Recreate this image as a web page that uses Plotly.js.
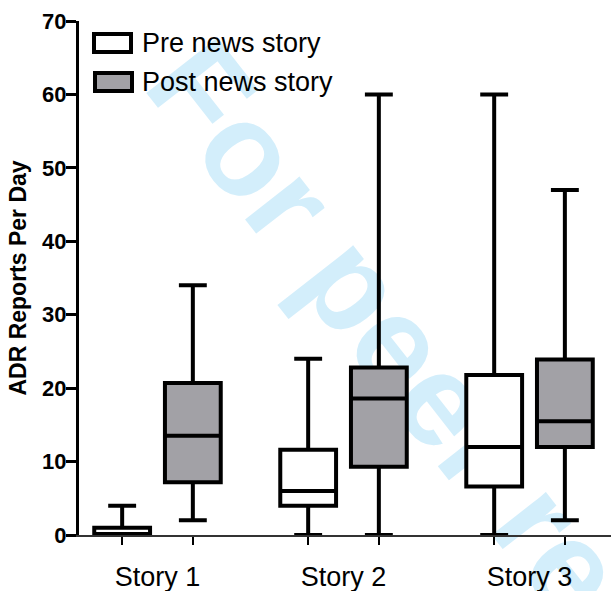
<!DOCTYPE html>
<html>
<head>
<meta charset="utf-8">
<script src="https://cdn.plot.ly/plotly-3.0.1.min.js"></script>
<style>html,body{margin:0;padding:0;background:#fff;}#chart{width:611px;height:591px;}</style>
</head>
<body>
<div id="chart"></div>
<script>
// ---- data ----
var categories = ['Story 1', 'Story 2', 'Story 3'];
var seriesNames = ['Pre news story', 'Post news story'];

var preMin    = [0, 0, 0];
var preQ1     = [0, 4, 6.6];
var preMedian = [0, 6, 12];
var preQ3     = [1, 11.6, 21.8];
var preMax    = [4, 24, 60];

var postMin    = [2, 0, 2];
var postQ1     = [7.2, 9.3, 12];
var postMedian = [13.5, 18.6, 15.5];
var postQ3     = [20.7, 22.8, 23.9];
var postMax    = [34, 60, 47];

var yTicks = [0, 10, 20, 30, 40, 50, 60, 70];

// ---- layout helpers ----
var offset = 0.19;
var groupPos = categories.map(function (c, i) { return i + 1; });
var prePos = groupPos.map(function (g) { return g - offset; });
var postPos = groupPos.map(function (g) { return g + offset; });

var FONT = 'Liberation Sans, Arial, Helvetica, sans-serif';
var GRAY = '#a2a1a6';

var common = {
  type: 'box',
  boxpoints: false,
  width: 0.30,
  whiskerwidth: 0.5,
  line: { color: '#000', width: 4 },
  hoverinfo: 'skip',
  xaxis: 'x', yaxis: 'y'
};

var tracePre = Object.assign({}, common, {
  name: seriesNames[0],
  x: prePos,
  q1: preQ1, median: preMedian, q3: preQ3,
  lowerfence: preMin, upperfence: preMax,
  fillcolor: '#ffffff'
});
var tracePost = Object.assign({}, common, {
  name: seriesNames[1],
  x: postPos,
  q1: postQ1, median: postMedian, q3: postQ3,
  lowerfence: postMin, upperfence: postMax,
  fillcolor: GRAY
});

var xr = [0.578, 3.438];

var layout = {
  width: 611, height: 591,
  margin: { l: 79, r: 0, t: 21, b: 56, pad: 0 },
  paper_bgcolor: '#ffffff',
  plot_bgcolor: 'rgba(0,0,0,0)',
  showlegend: false,
  font: { family: FONT, color: '#000' },
  xaxis: {
    range: xr, fixedrange: true,
    tickmode: 'array', tickvals: prePos.concat(postPos),
    ticktext: prePos.concat(postPos).map(function () { return ''; }),
    ticks: 'outside', ticklen: 8, tickwidth: 2.5, tickcolor: '#000',
    showline: true, linecolor: '#333', linewidth: 2,
    showgrid: false, zeroline: false
  },
  xaxis2: {
    overlaying: 'x', anchor: 'y', side: 'bottom',
    range: xr, fixedrange: true,
    tickmode: 'array', tickvals: groupPos, ticktext: categories,
    ticks: '', showline: false, showgrid: false, zeroline: false,
    tickfont: { size: 27, family: FONT, color: '#000' },
    ticklabelstandoff: 23
  },
  yaxis: {
    range: [0, 70], fixedrange: true,
    tickmode: 'array', tickvals: yTicks,
    ticks: 'outside', ticklen: 10, tickwidth: 3, tickcolor: '#000',
    showline: true, linecolor: '#000', linewidth: 3,
    showgrid: false, zeroline: false,
    ticklabelstandoff: -5,
    tickfont: { size: 22, family: FONT, color: '#000', weight: 'bold' },
    title: { text: 'ADR Reports Per Day', font: { size: 23, family: FONT, color: '#000', weight: 'bold' }, standoff: 10 }
  },
  shapes: [
    // watermark
    {
      type: 'rect', xref: 'paper', yref: 'paper',
      x0: 0.625, x1: 0.899, y0: 0.064, y1: 0.336,
      line: { width: 0 }, fillcolor: 'rgba(0,0,0,0)', layer: 'below',
      label: {
        text: '<b>For peer review</b>', textangle: 52, textposition: 'middle center',
        font: { size: 131, family: FONT, color: '#d3eefb', weight: 'bold' }
      }
    },
    // legend swatches
    {
      type: 'rect', xref: 'paper', yref: 'paper',
      x0: (94 - 79) / 532, x1: (131 - 79) / 532,
      y0: (535 - 34) / 514, y1: (535 - 52) / 514,
      line: { color: '#000', width: 4 }, fillcolor: '#ffffff'
    },
    {
      type: 'rect', xref: 'paper', yref: 'paper',
      x0: (95 - 79) / 532, x1: (132 - 79) / 532,
      y0: (535 - 73) / 514, y1: (535 - 91) / 514,
      line: { color: '#000', width: 4 }, fillcolor: GRAY
    }
  ],
  annotations: [
    { xref: 'paper', yref: 'paper', x: (140 - 79) / 532, y: (535 - 43) / 514, xanchor: 'left', yanchor: 'middle',
      text: seriesNames[0], showarrow: false, font: { size: 27, family: FONT, color: '#000' } },
    { xref: 'paper', yref: 'paper', x: (140 - 79) / 532, y: (535 - 82) / 514, xanchor: 'left', yanchor: 'middle',
      text: seriesNames[1], showarrow: false, font: { size: 27, family: FONT, color: '#000' } }
  ]
};

// invisible helper trace so the label axis (xaxis2) is drawn
var traceAxis2 = { type: 'scatter', x: [xr[0]], y: [0], xaxis: 'x2', yaxis: 'y', mode: 'markers', marker: { opacity: 0 }, hoverinfo: 'skip', showlegend: false };

Plotly.newPlot('chart', [tracePre, tracePost, traceAxis2], layout, { staticPlot: true, displayModeBar: false });
</script>
</body>
</html>
